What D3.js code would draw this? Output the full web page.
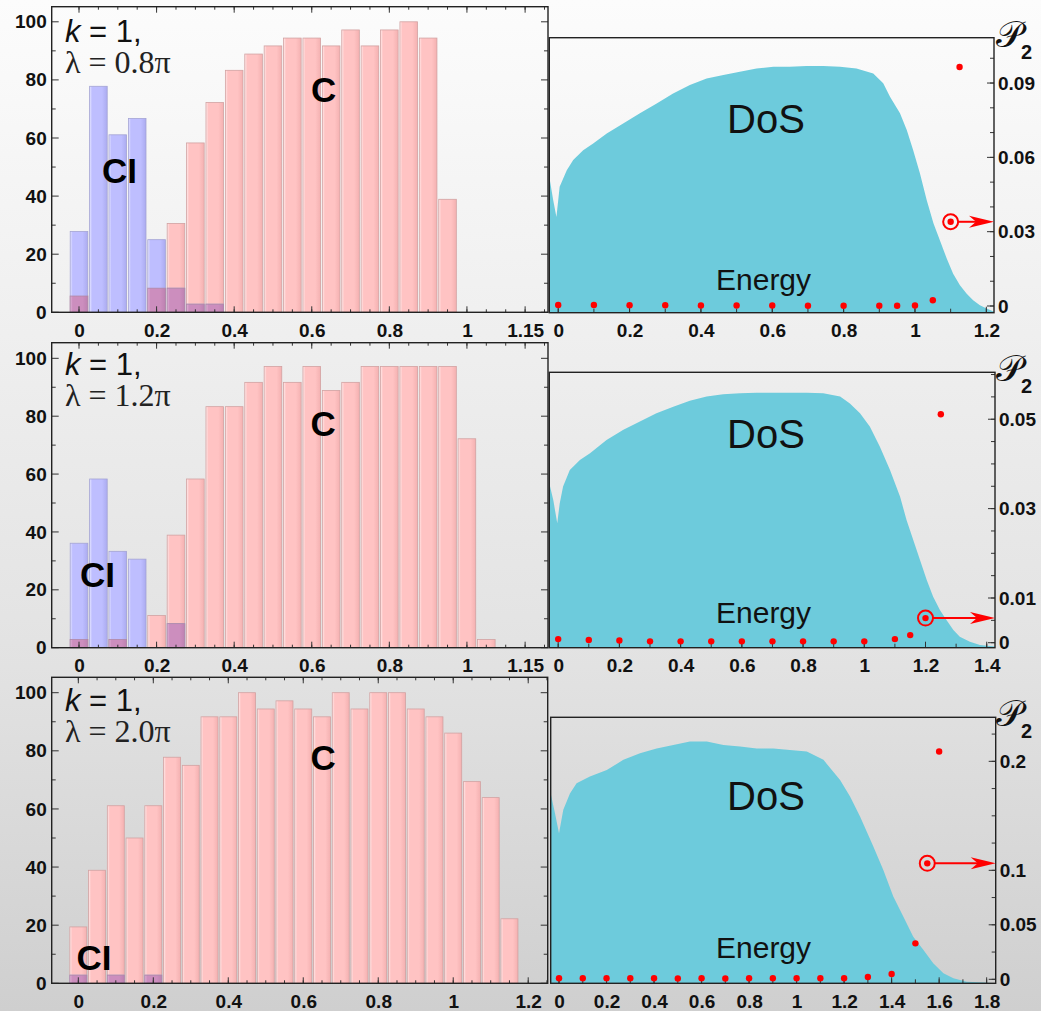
<!DOCTYPE html>
<html>
<head>
<meta charset="utf-8">
<script src="https://cdn.jsdelivr.net/npm/d3@7"></script>
<style>
  body { margin: 0; background: #fff; }
  svg { display: block; }
  text { font-family: "Liberation Sans", Arial, sans-serif; }
</style>
</head>
<body>
<svg id="fig" width="1041" height="1011"></svg>
<script>
// ---------- histogram data: percentage per energy bin (bin width 0.05) ----------
var bins1 = [0,0.05,0.1,0.15,0.2,0.25,0.3,0.35,0.4,0.45,0.5,0.55,0.6,0.65,0.7,0.75,0.8,0.85,0.9,0.95];
var c1    = [5.6,0,0,0,8.3,30.6,58.3,72.2,83.3,88.9,91.7,94.4,94.4,91.7,97.2,91.7,97.2,100,94.4,38.9];
var ci1   = [27.8,77.8,61.1,66.7,25,8.3,2.8,2.8,0,0,0,0,0,0,0,0,0,0,0,0];

var bins2 = [0,0.05,0.1,0.15,0.2,0.25,0.3,0.35,0.4,0.45,0.5,0.55,0.6,0.65,0.7,0.75,0.8,0.85,0.9,0.95,1,1.05];
var c2    = [2.8,0,2.8,0,11.1,38.9,58.3,83.3,83.3,91.7,97.2,91.7,97.2,88.9,91.7,97.2,97.2,97.2,97.2,97.2,72.2,2.8];
var ci2   = [36.1,58.3,33.3,30.6,0,8.3,0,0,0,0,0,0,0,0,0,0,0,0,0,0,0,0];

var bins3 = [0,0.05,0.1,0.15,0.2,0.25,0.3,0.35,0.4,0.45,0.5,0.55,0.6,0.65,0.7,0.75,0.8,0.85,0.9,0.95,1,1.05,1.1,1.15];
var c3    = [19.4,38.9,61.1,50,61.1,77.8,75,91.7,91.7,100,94.4,97.2,94.4,91.7,100,94.4,100,100,94.4,91.7,86.1,69.4,63.9,22.2];
var ci3   = [2.8,0,2.8,0,2.8,0,0,0,0,0,0,0,0,0,0,0,0,0,0,0,0,0,0,0];

var xTicksL1 = [0,0.2,0.4,0.6,0.8,1,1.15];
var xTicksL3 = [0,0.2,0.4,0.6,0.8,1,1.2];
var yTicksL  = [0,20,40,60,80,100];
var lambdas  = ["0.8π","1.2π","2.0π"];

// ---------- density of states (relative height) vs energy ----------
var dosE1 = [-0.025,-0.014,-0.005,0.004,0.024,0.042,0.07,0.098,0.136,0.182,0.229,0.276,0.322,0.369,0.416,0.463,0.509,0.556,0.603,0.649,0.696,0.743,0.79,0.836,0.883,0.911,0.93,0.958,0.977,0.995,1.014,1.033,1.052,1.07,1.089,1.107,1.126,1.145,1.163,1.182,1.201,1.224];
var dosV1 = [0.494,0.409,0.348,0.458,0.518,0.555,0.591,0.615,0.652,0.688,0.725,0.761,0.797,0.828,0.852,0.864,0.876,0.888,0.894,0.894,0.897,0.897,0.894,0.888,0.87,0.834,0.785,0.725,0.664,0.591,0.506,0.409,0.324,0.263,0.197,0.142,0.1,0.069,0.045,0.027,0.015,0.002];

var dosE2 = [-0.029,-0.016,-0.003,0.005,0.016,0.038,0.071,0.104,0.158,0.213,0.267,0.321,0.376,0.43,0.485,0.539,0.594,0.648,0.703,0.757,0.812,0.866,0.921,0.953,0.986,1.018,1.051,1.084,1.117,1.138,1.16,1.182,1.204,1.225,1.247,1.269,1.291,1.312,1.345,1.378,1.427];
var dosV2 = [0.597,0.536,0.452,0.524,0.585,0.645,0.682,0.706,0.754,0.791,0.821,0.851,0.875,0.897,0.912,0.92,0.924,0.926,0.926,0.926,0.926,0.924,0.912,0.887,0.851,0.803,0.73,0.645,0.548,0.464,0.391,0.318,0.246,0.185,0.137,0.1,0.064,0.04,0.022,0.01,0.004];

var dosE3 = [-0.035,-0.017,0,0.018,0.046,0.074,0.13,0.201,0.271,0.341,0.411,0.481,0.551,0.622,0.692,0.762,0.832,0.902,0.972,1.043,1.113,1.183,1.225,1.267,1.323,1.365,1.407,1.449,1.491,1.534,1.575,1.618,1.66,1.716,1.786,1.838];
var dosV3 = [0.714,0.639,0.564,0.652,0.714,0.752,0.777,0.802,0.84,0.865,0.883,0.896,0.909,0.909,0.896,0.89,0.883,0.883,0.877,0.871,0.84,0.764,0.702,0.627,0.514,0.426,0.326,0.251,0.175,0.125,0.075,0.038,0.019,0.006,0.003,0];

// ---------- P2 of selected states ----------
var p2E1 = [0,0.1,0.2,0.3,0.4,0.5,0.6,0.7,0.8,0.9,0.95,1,1.05,1.1,1.125];
var p2V1 = [0.0004,0.0004,0.0003,0.0003,0.0002,0.0002,0.0002,0.0001,0.0001,0.0001,0.0001,0.0002,0.0023,0.034,0.0965];
var p2E2 = [0,0.1,0.2,0.3,0.4,0.5,0.6,0.7,0.8,0.9,1,1.1,1.15,1.2,1.25];
var p2V2 = [0.0008,0.0006,0.0005,0.0003,0.0003,0.0003,0.0003,0.0003,0.0003,0.0003,0.0003,0.0008,0.0017,0.0055,0.0511];
var p2E3 = [0,0.1,0.2,0.3,0.4,0.5,0.6,0.7,0.8,0.9,1,1.1,1.2,1.3,1.4,1.5,1.55,1.6];
var p2V3 = [0.0009,0.0009,0.0009,0.0009,0.0009,0.0008,0.0009,0.0008,0.0009,0.0009,0.0009,0.0009,0.0009,0.0021,0.0049,0.033,0.1064,0.209];
var marked = [1.1, 1.2, 1.55];   // energy of the circled state in each panel

var xTicksR1 = [0,0.2,0.4,0.6,0.8,1,1.2];
var xTicksR2 = [0,0.2,0.4,0.6,0.8,1,1.2,1.4];
var xTicksR3 = [0,0.2,0.4,0.6,0.8,1,1.2,1.4,1.6,1.8];
var pTicks1 = [0,0.03,0.06,0.09];
var pTicks2 = [0,0.01,0.03,0.05];
var pTicks3 = [0,0.05,0.1,0.2];

// ---------- drawing ----------
var W = 1041, H = 1011;
var svg = d3.select('#fig');
var defs = svg.append('defs');

var bg = defs.append('linearGradient').attr('id','bg')
  .attr('x1',0).attr('y1',0).attr('x2',0).attr('y2',1);
[[0,'#fcfcfc'],[0.33,'#efefef'],[0.66,'#e2e2e2'],[1,'#cfcfcf']].forEach(function(s){
  bg.append('stop').attr('offset',s[0]).attr('stop-color',s[1]);
});
svg.append('rect').attr('width',W).attr('height',H).attr('fill','url(#bg)');

function barGrad(id, light, mid, dark){
  var g = defs.append('linearGradient').attr('id',id);
  g.append('stop').attr('offset',0).attr('stop-color',light);
  g.append('stop').attr('offset',0.14).attr('stop-color',mid);
  g.append('stop').attr('offset',0.7).attr('stop-color',mid);
  g.append('stop').attr('offset',1).attr('stop-color',dark);
}
barGrad('gC','#ffeaea','#ffc3c3','#f4b1b1');
barGrad('gCI','#e6e6ff','#bebeff','#ababf0');
barGrad('gMix','#e2b4da','#cc8ebe','#bd81b1');

var tickFont = 'bold 19px "Liberation Sans", Arial, sans-serif';

function leftPanel(p){
  var g = svg.append('g');
  var x = d3.scaleLinear().domain(p.xd).range([p.x0, p.x1]);
  var y = d3.scaleLinear().domain(p.yd).range([p.y1, p.y0]);
  var bw = 0.05;
  var rows = p.bins.map(function(b,i){ return {b:b, c:p.c[i], ci:p.ci[i]}; });

  function bars(val, fill, stroke){
    g.append('g').selectAll('rect')
      .data(rows.filter(function(r){ return val(r) > 0; }))
      .enter().append('rect')
      .attr('x', function(d){ return x(d.b - bw/2) + 0.9; })
      .attr('width', function(d){ return x(d.b + bw/2) - x(d.b - bw/2) - 1.8; })
      .attr('y', function(d){ return y(val(d)); })
      .attr('height', function(d){ return y(0) - y(val(d)); })
      .attr('fill', fill).attr('stroke', stroke).attr('stroke-width', 0.8);
  }
  bars(function(r){ return r.c; }, 'url(#gC)', '#d2a2a2');
  bars(function(r){ return r.ci; }, 'url(#gCI)', '#a4a4d4');
  bars(function(r){ return Math.min(r.c, r.ci); }, 'url(#gMix)', '#b088a6');

  // frame ticks
  var yMinor = d3.range(10, 101, 20);
  var xMinor = d3.range(0, p.xd[1], 0.05);
  var tk = g.append('g').attr('stroke','#333').attr('stroke-width',1);
  yTicksL.forEach(function(v){
    tk.append('line').attr('x1',p.x0).attr('x2',p.x0+7).attr('y1',y(v)).attr('y2',y(v));
    tk.append('line').attr('x1',p.x1).attr('x2',p.x1-7).attr('y1',y(v)).attr('y2',y(v));
  });
  yMinor.forEach(function(v){
    tk.append('line').attr('x1',p.x0).attr('x2',p.x0+4).attr('y1',y(v)).attr('y2',y(v));
    tk.append('line').attr('x1',p.x1).attr('x2',p.x1-4).attr('y1',y(v)).attr('y2',y(v));
  });
  xMinor.forEach(function(v){
    tk.append('line').attr('x1',x(v)).attr('x2',x(v)).attr('y1',p.y1).attr('y2',p.y1-3);
    tk.append('line').attr('x1',x(v)).attr('x2',x(v)).attr('y1',p.y0).attr('y2',p.y0+3);
  });
  p.xt.forEach(function(v){
    tk.append('line').attr('x1',x(v)).attr('x2',x(v)).attr('y1',p.y1).attr('y2',p.y1-6);
    tk.append('line').attr('x1',x(v)).attr('x2',x(v)).attr('y1',p.y0).attr('y2',p.y0+6);
  });

  g.append('rect').attr('x',p.x0).attr('y',p.y0)
    .attr('width',p.x1-p.x0).attr('height',p.y1-p.y0)
    .attr('fill','none').attr('stroke','#222').attr('stroke-width',1.4);

  // tick labels via axes (tick lines drawn above)
  var ax = g.append('g').attr('transform','translate(0,'+p.y1+')')
    .call(d3.axisBottom(x).tickValues(p.xt).tickSize(0).tickPadding(11).tickFormat(function(d){ return String(d); }));
  var ay = g.append('g').attr('transform','translate('+p.x0+',0)')
    .call(d3.axisLeft(y).tickValues(yTicksL).tickSize(0).tickPadding(5));
  [ax, ay].forEach(function(a){
    a.select('.domain').remove();
    a.selectAll('text').style('font', tickFont).attr('fill','#111');
  });

  // annotations
  var t1 = g.append('text').attr('x',65).attr('y',p.ty).style('font-size','31px').attr('fill','#111');
  t1.append('tspan').style('font-style','italic').text('k');
  t1.append('tspan').text(' = 1,');
  g.append('text').attr('x',65).attr('y',p.ty+31)
    .style('font-family','"Liberation Serif", "Times New Roman", serif').style('font-size','32px')
    .attr('fill','#222').text('λ = ' + p.lam);
  g.append('text').attr('x',p.ciX).attr('y',p.ciY).style('font','bold 35px "Liberation Sans", Arial, sans-serif').text('CI');
  g.append('text').attr('x',p.cX).attr('y',p.cY).style('font','bold 35px "Liberation Sans", Arial, sans-serif').text('C');
}

function rightPanel(p){
  var g = svg.append('g');
  var x = d3.scaleLinear().domain(p.xd).range([p.x0, p.x1]);
  var yd = d3.scaleLinear().domain([0,1]).range([p.y1, p.y0]);
  var yp = d3.scaleLinear().domain(p.pd).range([p.y1, p.y0]);
  var clipId = 'clip' + p.id;
  defs.append('clipPath').attr('id',clipId).append('rect')
    .attr('x',p.x0).attr('y',p.y0).attr('width',p.x1-p.x0).attr('height',p.y1-p.y0);

  var pts = p.dosE.map(function(e,i){ return [e, p.dosV[i]]; });
  var area = d3.area().x(function(d){ return x(d[0]); })
    .y0(p.y1).y1(function(d){ return yd(d[1]); });
  g.append('path').datum(pts).attr('d', area)
    .attr('fill','#6dcbdc').attr('clip-path','url(#'+clipId+')');

  // ticks
  var tk = g.append('g').attr('stroke','#333').attr('stroke-width',1);
  d3.range(0, p.xd[1], 0.1).forEach(function(v){
    tk.append('line').attr('x1',x(v)).attr('x2',x(v)).attr('y1',p.y1).attr('y2',p.y1-4);
  });
  p.xt.forEach(function(v){
    tk.append('line').attr('x1',x(v)).attr('x2',x(v)).attr('y1',p.y1).attr('y2',p.y1-6);
  });
  d3.range(0, p.pd[1], p.pMinor).forEach(function(v){
    tk.append('line').attr('x1',p.x1).attr('x2',p.x1-4).attr('y1',yp(v)).attr('y2',yp(v));
  });
  p.pt.forEach(function(v){
    tk.append('line').attr('x1',p.x1).attr('x2',p.x1-7).attr('y1',yp(v)).attr('y2',yp(v));
  });

  g.append('rect').attr('x',p.x0).attr('y',p.y0)
    .attr('width',p.x1-p.x0).attr('height',p.y1-p.y0)
    .attr('fill','none').attr('stroke','#222').attr('stroke-width',1.4);

  var ax = g.append('g').attr('transform','translate(0,'+p.y1+')')
    .call(d3.axisBottom(x).tickValues(p.xt).tickSize(0).tickPadding(11).tickFormat(function(d){ return String(d); }));
  var ay = g.append('g').attr('transform','translate('+p.x1+',0)')
    .call(d3.axisRight(yp).tickValues(p.pt).tickSize(0).tickPadding(4).tickFormat(function(d){ return String(d); }));
  [ax, ay].forEach(function(a){
    a.select('.domain').remove();
    a.selectAll('text').style('font', tickFont).attr('fill','#111');
  });

  // P2 points
  var dots = p.pE.map(function(e,i){ return {e:e, v:p.pV[i]}; });
  g.append('g').selectAll('circle').data(dots).enter().append('circle')
    .attr('cx', function(d){ return x(d.e); })
    .attr('cy', function(d){ return yp(d.v); })
    .attr('r', 3.2).attr('fill','#ff0000');

  // circled state with arrow to the P2 axis
  var m = dots.filter(function(d){ return d.e === p.mark; })[0];
  var cx = x(m.e), cy = yp(m.v);
  g.append('circle').attr('cx',cx).attr('cy',cy).attr('r',7.5)
    .attr('fill','none').attr('stroke','#ff0000').attr('stroke-width',2);
  g.append('line').attr('x1',cx+7.5).attr('x2',p.x1-16).attr('y1',cy).attr('y2',cy)
    .attr('stroke','#ff0000').attr('stroke-width',2);
  g.append('path')
    .attr('d','M'+p.x1+','+cy+' l-25,-6 l7,6 l-7,6 z')
    .attr('fill','#ff0000');

  g.append('text').attr('x',727).attr('y',p.dosY).style('font-size','40px').attr('fill','#111').text('DoS');
  g.append('text').attr('x',716).attr('y',p.enY).style('font-size','30px').attr('fill','#111').text('Energy');

  // axis title: script P with subscript 2
  var pl = g.append('text').attr('x',996).attr('y',p.y0+9).attr('fill','#111');
  pl.append('tspan')
    .style('font-family','"DejaVu Serif", "Liberation Serif", serif').style('font-size','37px')
    .text('𝒫');
  pl.append('tspan').attr('dx',-2).attr('dy',12)
    .style('font','bold 20px "Liberation Sans", Arial, sans-serif').text('2');
}

leftPanel({x0:51.7, x1:548, y0:6.7, y1:312.3, xd:[-0.0704,1.209], yd:[0,105.2],
  bins:bins1, c:c1, ci:ci1, xt:xTicksL1, lam:lambdas[0], ty:42,
  ciX:102, ciY:183, cX:311, cY:102});
leftPanel({x0:51.7, x1:548, y0:342.7, y1:647.7, xd:[-0.0704,1.209], yd:[0,105.4],
  bins:bins2, c:c2, ci:ci2, xt:xTicksL1, lam:lambdas[1], ty:375,
  ciX:80, ciY:587, cX:310.5, cY:436});
leftPanel({x0:51.7, x1:547.7, y0:677.3, y1:983.3, xd:[-0.071,1.252], yd:[0,105.3],
  bins:bins3, c:c3, ci:ci3, xt:xTicksL3, lam:lambdas[2], ty:710.7,
  ciX:76.5, ciY:970, cX:310.5, cY:770});

rightPanel({id:1, x0:549.3, x1:994, y0:37.7, y1:312.7, xd:[-0.025,1.2215], pd:[-0.0027,0.1083],
  dosE:dosE1, dosV:dosV1, pE:p2E1, pV:p2V1, mark:marked[0], xt:xTicksR1, pt:pTicks1, pMinor:0.01,
  dosY:133, enY:290});
rightPanel({id:2, x0:549.3, x1:995, y0:372.3, y1:647.7, xd:[-0.029,1.427], pd:[-0.00112,0.0605],
  dosE:dosE2, dosV:dosV2, pE:p2E2, pV:p2V2, mark:marked[1], xt:xTicksR2, pt:pTicks2, pMinor:0.005,
  dosY:448, enY:623});
rightPanel({id:3, x0:550.7, x1:995.7, y0:717.3, y1:983.3, xd:[-0.035,1.838], pd:[-0.00367,0.2404],
  dosE:dosE3, dosV:dosV3, pE:p2E3, pV:p2V3, mark:marked[2], xt:xTicksR3, pt:pTicks3, pMinor:0.025,
  dosY:810, enY:958});
</script>
</body>
</html>
